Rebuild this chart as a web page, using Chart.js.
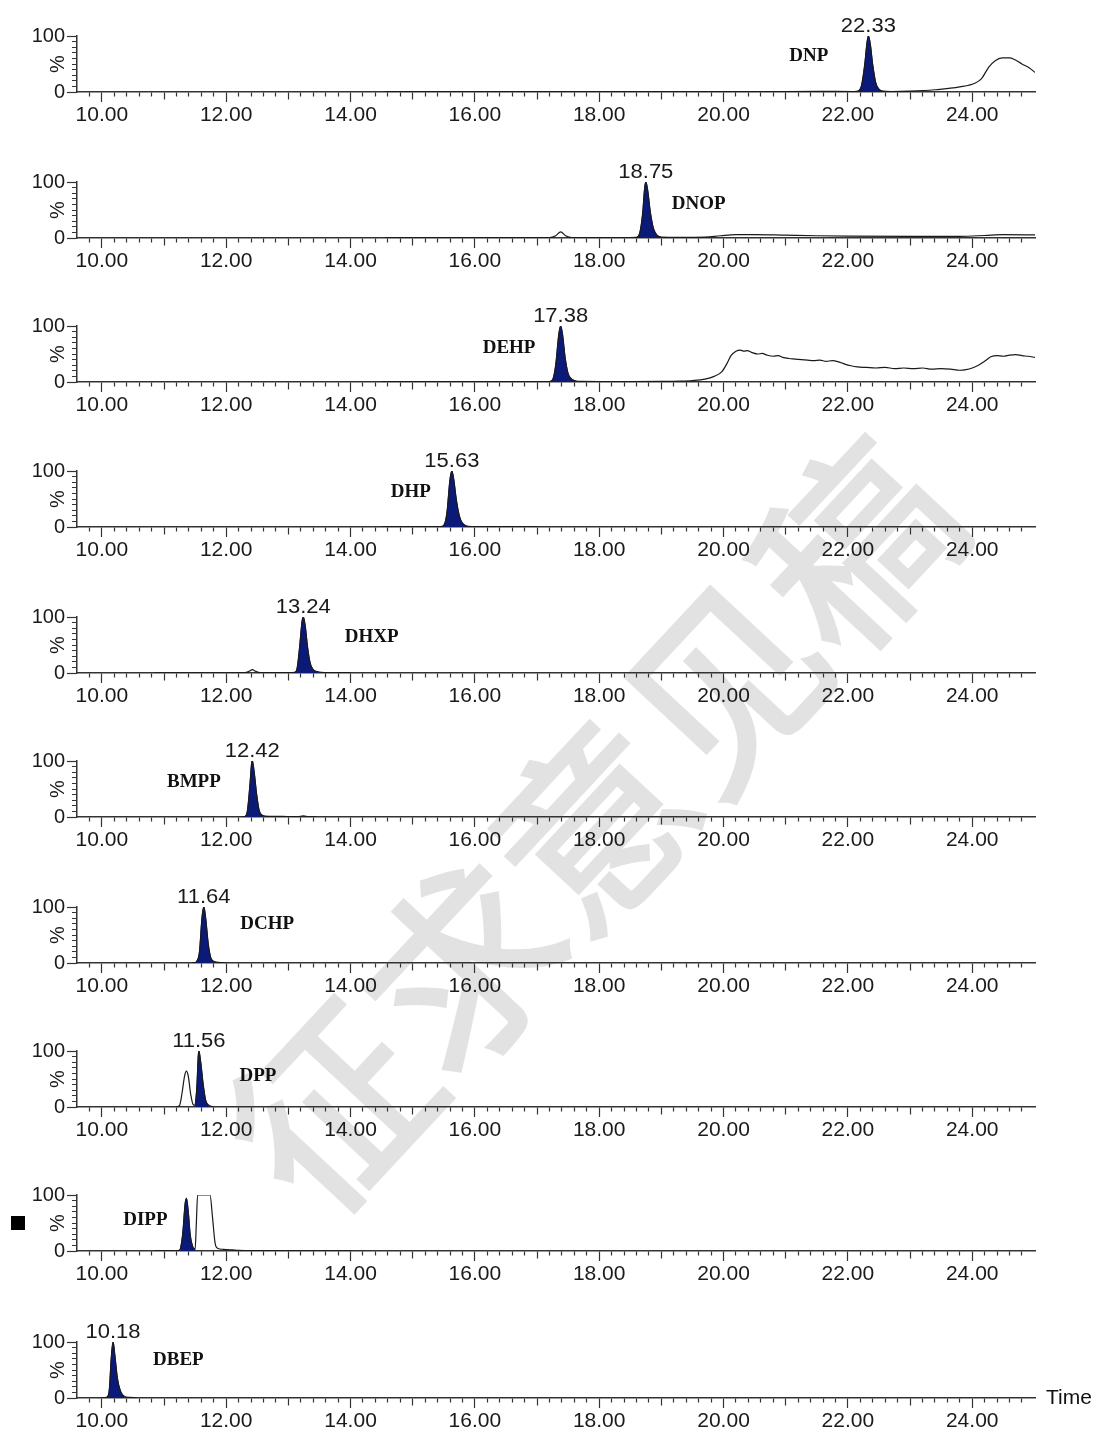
<!DOCTYPE html>
<html>
<head>
<meta charset="utf-8">
<script src="https://cdn.jsdelivr.net/npm/chart.js@4.4.1/dist/chart.umd.min.js"></script>
<style>
  body { margin: 0; background: #fff; width: 1099px; height: 1432px; position: relative; overflow: hidden; }
  canvas { position: absolute; left: 0; z-index: 1; }
  #wm { position: absolute; left: 586px; top: 818px; transform: translate(-50%, -50%) rotate(-47deg);
        font: 192px "Noto Sans CJK SC"; color: #e2e2e2; -webkit-text-stroke: 4px #e2e2e2;
        white-space: nowrap; z-index: 0; line-height: 1; }
  #time { position: absolute; left: 1046px; top: 1385px; font: 21px "Liberation Sans", Arial; color: #111; z-index: 2; }
  #mark { position: absolute; left: 11px; top: 1216px; width: 14px; height: 14px; background: #000; z-index: 2; }
</style>
</head>
<body>
<div id="wm">征求意见稿</div>
<div id="mark"></div>
<div id="time">Time</div>
<script>
// compound names, top panel first
const compounds = ['DNP', 'DNOP', 'DEHP', 'DHP', 'DHXP', 'BMPP', 'DCHP', 'DPP', 'DIPP', 'DBEP'];
const retention = [22.33, 18.75, 17.38, 15.63, 13.24, 12.42, 11.64, 11.56, null, 10.18];
// integrated (filled) peak start / end, minutes
const peakFrom = [22.17, 18.60, 17.20, 15.45, 13.10, 12.30, 11.52, 11.50, 11.26, 10.08];
const peakTo   = [22.56, 19.00, 17.62, 15.86, 13.48, 12.58, 11.80, 11.72, 11.50, 10.36];
const timeLabels = [10, 12, 14, 16, 18, 20, 22, 24];

// traces: [time (min), intensity %]
const tDNP = [[14.55,0.6],[15.5,0.8],[16.5,0.6],[17.5,0.8],[18.5,0.7],[19.5,0.9],[20.5,0.8],[21.5,1.0],[22.1,0.9],
  [22.17,2],[22.22,12],[22.27,48],[22.31,90],[22.33,100],[22.36,86],[22.40,48],[22.45,16],[22.50,5],[22.56,1.5],
  [22.7,0.8],[23.0,1.5],[23.4,4],[23.8,9],[24.05,16],[24.15,24],[24.27,45],[24.37,56],[24.48,61],[24.6,61],
  [24.68,58],[24.8,50],[24.92,43],[25.01,35]];
const tDNOP = [[14.55,0.5],[15.5,0.6],[16.5,0.6],[17.2,0.7],[17.3,4],[17.38,11],[17.46,4],[17.56,0.7],[18.0,0.7],
  [18.5,0.8],[18.6,1],[18.65,8],[18.7,45],[18.73,88],[18.75,100],[18.78,85],[18.82,48],[18.87,18],[18.93,5],[19.0,1.5],
  [19.3,1],[19.7,1.5],[19.95,4],[20.2,6],[20.5,6],[21,5],[21.5,4],[22,3.5],[23,3],[23.8,3],[24.2,4.5],[24.5,6],[25.01,5.5]];
const tDEHP = [[14.5,0.5],[15,0.6],[15.5,0.5],[16,0.7],[16.5,0.6],[17,0.7],[17.2,0.8],[17.25,4],[17.3,30],[17.35,85],
  [17.38,100],[17.41,85],[17.45,45],[17.5,15],[17.56,5],[17.62,2],[17.7,1],[18,0.8],[18.5,0.8],[19,1],[19.3,1.5],
  [19.5,2.5],[19.7,5],[19.85,10],[19.97,18],[20.05,32],[20.12,47],[20.2,55],[20.27,57],[20.33,55],[20.38,56],[20.45,53],
  [20.55,50],[20.62,51],[20.7,48],[20.8,46],[20.88,47],[20.95,44],[21.05,42],[21.15,41],[21.25,40],[21.35,39],[21.45,38],
  [21.55,39],[21.65,37],[21.75,38],[21.85,36],[21.95,32],[22.05,29],[22.15,27],[22.3,26],[22.45,25],[22.6,26],[22.75,24],
  [22.9,25],[23.05,24],[23.2,25],[23.35,23],[23.5,24],[23.65,23],[23.8,21],[23.9,22],[24.0,25],[24.1,30],[24.2,37],
  [24.3,45],[24.4,47],[24.5,46],[24.6,48],[24.7,49],[24.8,47],[24.9,46],[25.01,44]];
const tDHP = [[14.5,0.4],[15,0.5],[15.45,0.6],[15.5,3],[15.55,25],[15.6,85],[15.63,100],[15.66,85],[15.7,50],
  [15.75,20],[15.8,7],[15.86,2],[15.95,0.8],[16.5,0.5],[17.0,0.4]];
const tDHXP = [[10.85,0.3],[11.5,0.4],[12.0,0.4],[12.3,0.5],[12.37,3],[12.42,6],[12.47,3],[12.55,0.5],[13.0,0.5],
  [13.1,1],[13.14,8],[13.18,45],[13.22,92],[13.24,100],[13.27,85],[13.31,45],[13.35,18],[13.4,6],[13.48,2],[13.6,0.8],[14.0,0.5]];
const tBMPP = [[12.25,0.3],[12.3,1],[12.34,10],[12.38,55],[12.41,97],[12.42,100],[12.45,80],[12.49,40],[12.53,12],
  [12.58,3],[12.7,1.2],[12.9,1],[13.15,0.8],[13.24,2],[13.32,0.8],[13.45,0.4]];
const tDCHP = [[11.45,0.3],[11.52,2],[11.57,20],[11.61,80],[11.64,100],[11.67,80],[11.71,35],[11.75,10],[11.8,3],
  [11.88,1],[12.0,0.3]];
const tDPP = [[11.2,0.3],[11.25,3],[11.29,25],[11.33,55],[11.36,64],[11.39,55],[11.43,22],[11.47,4],[11.5,3],
  [11.53,40],[11.55,90],[11.56,100],[11.59,80],[11.63,40],[11.67,12],[11.72,3],[11.8,0.5]];
const tDIPP = [[10.85,0.3],[11.2,0.4],[11.26,3],[11.3,30],[11.34,85],[11.36,94],[11.39,70],[11.42,30],[11.46,8],
  [11.5,3],[11.52,50],[11.54,100],[11.74,100],[11.78,60],[11.82,15],[11.86,5],[11.95,3],[12.1,2],[12.2,1],[12.5,0.6],
  [13,0.4],[14,0.4]];
const tDBEP = [[9.97,0.3],[10.08,1],[10.12,15],[10.15,70],[10.18,100],[10.21,75],[10.25,35],[10.3,12],[10.36,3],
  [10.45,1],[10.55,0.5]];
const traces = [tDNP, tDNOP, tDEHP, tDHP, tDHXP, tBMPP, tDCHP, tDPP, tDIPP, tDBEP];

// where the compound names sit (minutes, %)
const nameX = [21.37, 19.60, 16.55, 14.97, 14.34, 11.48, 12.66, 12.51, 10.70, 11.23];
const nameY = [65, 61, 61, 62, 64, 62, 70, 55, 55, 68];

// page layout
const axisY = [92, 238, 382, 527, 673, 817, 963, 1107, 1251, 1398];
const H = 126;
const navy = '#0b1a78';
const ink = '#1a1a1a';

const minorTicks = [];
for (let k = 49; k <= 124; k++) minorTicks.push(k / 5);
const tickKind = v => { const k = Math.round(v * 5); return k % 10 === 0 ? 2 : (k % 5 === 0 ? 1 : 0); };

compounds.forEach((name, i) => {
  const cv = document.createElement('canvas');
  cv.width = 1099; cv.height = H;
  cv.style.top = (axisY[i] - 92) + 'px';
  document.body.appendChild(cv);

  const tr = traces[i];
  const pk = tr.filter(p => p[0] >= peakFrom[i] && p[0] <= peakTo[i]);

  const annot = {
    id: 'annot' + i,
    afterDraw(chart) {
      const c = chart.ctx, xs = chart.scales.x, ys = chart.scales.y, a = chart.chartArea;
      c.save();
      c.fillStyle = ink;
      // % title
      c.font = '20px "Liberation Sans", Arial';
      c.textAlign = 'center'; c.textBaseline = 'middle';
      c.translate(58, (a.top + a.bottom) / 2);
      c.rotate(-Math.PI / 2);
      c.fillText('%', 0, 0);
      c.restore();
      c.save();
      c.fillStyle = ink;
      if (retention[i] != null) {
        c.font = '20px "Liberation Sans", Arial';
        c.textAlign = 'center'; c.textBaseline = 'alphabetic';
        c.translate(xs.getPixelForValue(retention[i]), a.top - 4);
        c.scale(1.1, 1);
        c.fillText(retention[i].toFixed(2), 0, 0);
      }
      c.restore();
      c.save();
      c.fillStyle = '#111';
      c.font = 'bold 19px "Liberation Serif", "Times New Roman", serif';
      c.textAlign = 'center'; c.textBaseline = 'middle';
      c.fillText(name, xs.getPixelForValue(nameX[i]), ys.getPixelForValue(nameY[i]));
      c.restore();
    }
  };

  new Chart(cv.getContext('2d'), {
    type: 'line',
    data: {
      datasets: [
        { data: tr.map(p => ({ x: p[0], y: p[1] })), borderColor: ink, borderWidth: 1.2, pointRadius: 0,
          fill: false, cubicInterpolationMode: 'monotone' },
        { data: pk.map(p => ({ x: p[0], y: p[1] })), borderColor: navy, backgroundColor: navy, borderWidth: 1,
          pointRadius: 0, fill: 'origin', cubicInterpolationMode: 'monotone' }
      ]
    },
    options: {
      responsive: false,
      animation: false,
      events: [],
      layout: { padding: { top: 36, right: 64, left: 0, bottom: 0 } },
      plugins: { legend: { display: false }, tooltip: { enabled: false } },
      scales: {
        x: {
          type: 'linear', min: 9.6, max: 25.01,
          afterFit: s => { s.height = H - 92; },
          afterBuildTicks: s => { s.ticks = minorTicks.map(v => ({ value: v })); },
          ticks: {
            autoSkip: false, maxRotation: 0, padding: 1, color: ink,
            font: { family: '"Liberation Sans", Arial', size: 21 },
            callback: v => (tickKind(v) === 2 && timeLabels.includes(Math.round(v))) ? v.toFixed(2) : ''
          },
          grid: {
            drawOnChartArea: false, tickLength: 10, tickColor: '#333', tickWidth: 1.2,
            tickBorderDash: ctx => [[4, 30], [7, 30], []][tickKind(ctx.tick.value)]
          },
          border: { color: '#333', width: 1.5 }
        },
        y: {
          min: 0, max: 100,
          afterFit: s => { s.width = 77; },
          ticks: {
            stepSize: 10, autoSkip: false, padding: 2, color: ink,
            font: { family: '"Liberation Sans", Arial', size: 20 },
            callback: v => (v === 0 || v === 100) ? String(v) : ''
          },
          grid: {
            drawOnChartArea: false, tickLength: 10, tickColor: '#333', tickWidth: 1.2,
            tickBorderDash: ctx => (ctx.tick.value === 0 || ctx.tick.value === 100) ? [] : [0, 5, 5, 20]
          },
          border: { color: '#333', width: 1.5 }
        }
      }
    },
    plugins: [annot]
  });
});
</script>
</body>
</html>
